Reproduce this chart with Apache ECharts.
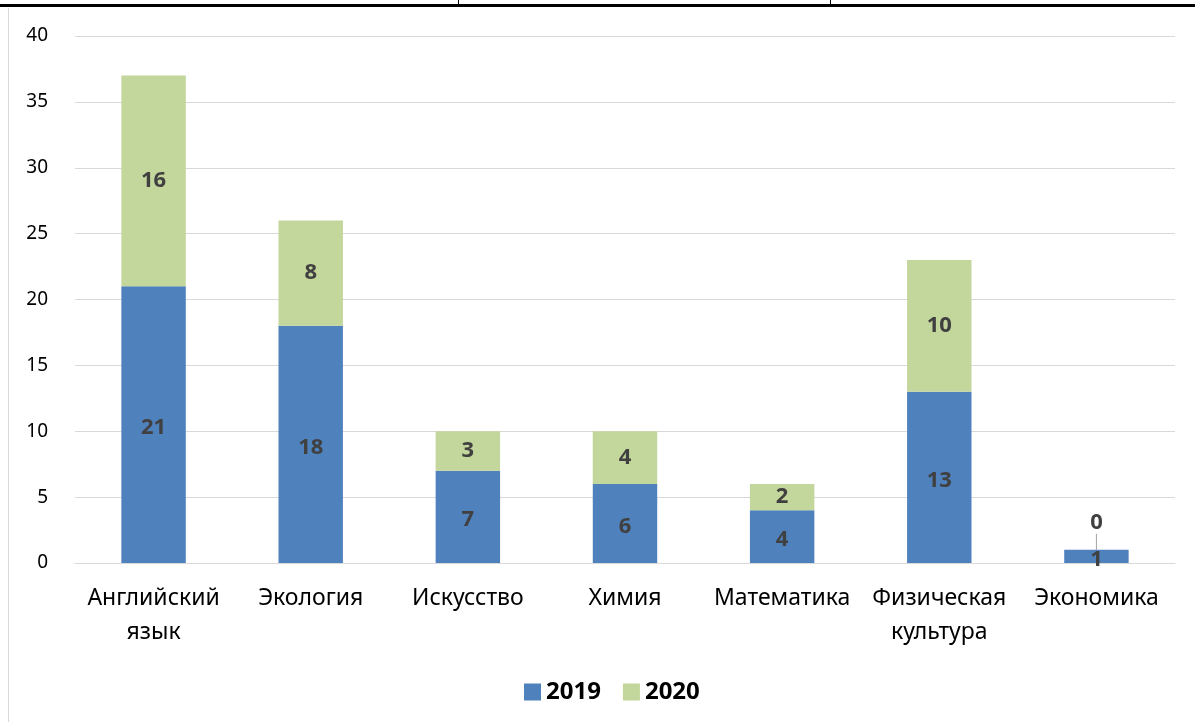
<!DOCTYPE html>
<html>
<head>
<meta charset="utf-8">
<script src="https://cdn.jsdelivr.net/npm/echarts@6/dist/echarts.min.js"></script>
<style>
  html, body { margin: 0; padding: 0; background: #fff; }
  #chart { width: 1195px; height: 722px; }
</style>
</head>
<body>
<div id="chart"></div>
<script>
const categories = [
  "Английский\nязык", "Экология", "Искусство", "Химия",
  "Математика", "Физическая\nкультура", "Экономика",
];
const values2019 = [21, 18, 7, 6, 4, 13, 1];
const values2020 = [16, 8, 3, 4, 2, 10, 0];
const yTicks = [0, 5, 10, 15, 20, 25, 30, 35, 40];

const FONT = "'Noto Sans', 'Open Sans', sans-serif";

const barLabel = {
  show: true,
  position: "inside",
  offset: [0, 3],
  color: "#404040",
  fontFamily: FONT,
  fontSize: 22,
  fontWeight: "bold",
};

const chart = echarts.init(document.getElementById("chart"));

chart.setOption({
  animation: false,
  backgroundColor: "#ffffff",
  textStyle: { fontFamily: FONT },
  grid: { left: 75, right: 20, top: 36, bottom: 159 },
  xAxis: {
    type: "category",
    data: categories,
    axisTick: { show: false },
    axisLine: { lineStyle: { color: "#d9d9d9", width: 1 } },
    axisLabel: {
      color: "#000000",
      fontSize: 23,
      lineHeight: 34,
      margin: 18,
      interval: 0,
    },
  },
  yAxis: {
    type: "value",
    min: yTicks[0],
    max: yTicks[yTicks.length - 1],
    interval: 5,
    axisLine: { show: false },
    axisTick: { show: false },
    axisLabel: { color: "#000000", fontSize: 19, margin: 27 },
    splitLine: { lineStyle: { color: "#d9d9d9", width: 1 } },
  },
  legend: {
    left: 519,
    top: 675,
    icon: "rect",
    itemWidth: 17,
    itemHeight: 17,
    itemGap: 22,
    textStyle: { color: "#000000", fontSize: 24, fontWeight: "bold", fontFamily: FONT },
  },
  series: [
    {
      name: "2019",
      type: "bar",
      stack: "total",
      data: values2019,
      barCategoryGap: "59%",
      itemStyle: { color: "#4f81bd" },
      label: barLabel,
    },
    {
      name: "2020",
      type: "bar",
      stack: "total",
      data: values2020,
      barCategoryGap: "59%",
      itemStyle: { color: "#c3d69b" },
      label: barLabel,
      labelLine: { show: true, lineStyle: { color: "#a6a6a6", width: 1 } },
      labelLayout: (params) =>
        values2020[params.dataIndex] === 0 ? { dy: -27, dx: 0 } : {},
    },
  ],
  graphic: [
    { type: "rect", shape: { x: 0, y: 4, width: 1195, height: 3 }, style: { fill: "#000" }, silent: true },
    { type: "rect", shape: { x: 458, y: 0, width: 1, height: 5 }, style: { fill: "#000" }, silent: true },
    { type: "rect", shape: { x: 830, y: 0, width: 1, height: 5 }, style: { fill: "#000" }, silent: true },
    { type: "rect", shape: { x: 8, y: 8, width: 1, height: 714 }, style: { fill: "#d9d9d9" }, silent: true },
  ],
});
</script>
</body>
</html>
